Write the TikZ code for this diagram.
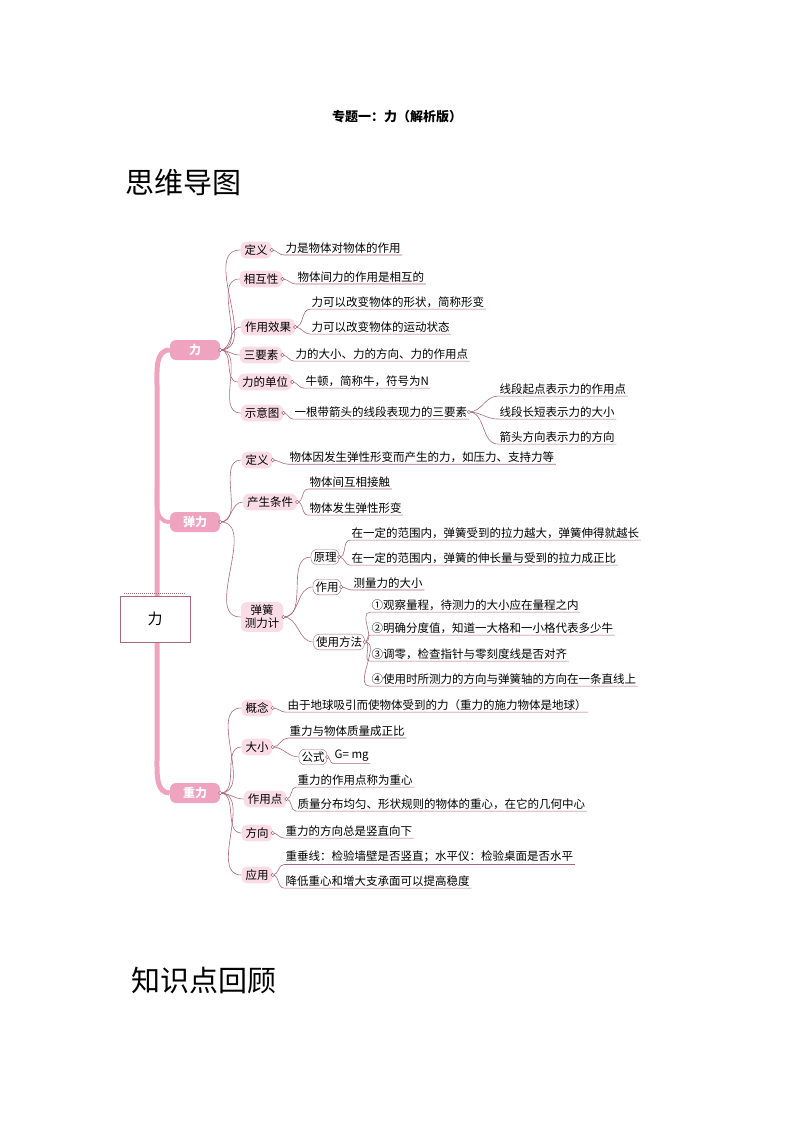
\documentclass[tikz,border=0pt]{standalone}
\usepackage{fontspec}
\setmainfont{Liberation Serif}
\newfontfamily\cjk{Noto Sans CJK SC}
\definecolor{lk}{HTML}{A8687A}
\definecolor{mainp}{HTML}{EFA3BE}
\definecolor{secp}{HTML}{F9DCE6}
\newcommand\leafn[5]{\node[leaf,anchor=west] (#1) at (#3,#4) {#5};
 \draw[lk,line width=0.6pt] (#2.east) to[out=0,in=180] (#1.south west) -- (#1.south east);}
\newcommand\secn[5]{\node[sec] (#1) at (#3,#4) {#5};
 \draw[lk,line width=0.6pt] (#2.east) to[out=0,in=180] (#1.west);}
\begin{document}
\begin{tikzpicture}[x=1pt,y=-1pt,
 leaf/.style={font=\cjk\fontsize{11.5}{13}\selectfont,inner sep=1.5pt},
 sec/.style={font=\cjk\fontsize{11.5}{13}\selectfont,fill=secp,rounded corners=6pt,inner xsep=4pt,inner ysep=3pt,align=center},
 mainn/.style={font=\cjk\bfseries\fontsize{12}{14}\selectfont,text=white,fill=mainp,rounded corners=6pt,minimum width=50pt,minimum height=20pt},
 dot/.style={circle,draw=lk,fill=white,inner sep=1.2pt,line width=0.5pt}]
\useasboundingbox (0,0) rectangle (794,1123);
\node[font=\cjk\bfseries\fontsize{13}{15}\selectfont] (title) at (397,117) {专题一：力（解析版）};
\node[font=\cjk\fontsize{29}{32}\selectfont,anchor=west] (h1) at (122,183) {思维导图};
\node[font=\cjk\fontsize{29}{32}\selectfont,anchor=west] (h2) at (128,980) {知识点回顾};
% main
\node[mainn] (m1) at (195,350) {力};
\node[mainn] (m2) at (195,522) {弹力};
\node[mainn] (m3) at (195,793) {重力};
\coordinate (t1) at (157,385);
\coordinate (t2) at (157,760);
\coordinate (t3) at (157,480);
\draw[mainp,line width=5pt] (m1.west) to[out=180,in=90] (t1) -- (t2) to[out=-90,in=180] (m3.west);
\draw[mainp,line width=4pt] (t3) to[out=-90,in=180] (m2.west);
\node[draw=lk,fill=white,minimum width=70pt,minimum height=46pt,font=\cjk\fontsize{15}{17}\selectfont] (root) at (155,619) {力};
\draw[lk,densely dotted,line width=1pt] (root.north west) ++(4,-2) -- ++(62,0);
% group 1
\secn{a1}{m1}{256}{250}{定义}
\secn{a2}{m1}{261}{279}{相互性}
\secn{a3}{m1}{268}{327}{作用效果}
\secn{a4}{m1}{261}{355}{三要素}
\secn{a5}{m1}{265}{382}{力的单位}
\secn{a6}{m1}{262}{413}{示意图}
\leafn{b1}{a1}{284}{248}{力是物体对物体的作用}
\leafn{b2}{a2}{296}{277}{物体间力的作用是相互的}
\leafn{b3}{a3}{310}{302}{力可以改变物体的形状，简称形变}
\leafn{b4}{a3}{310}{327}{力可以改变物体的运动状态}
\leafn{b5}{a4}{294}{354}{力的大小、力的方向、力的作用点}
\leafn{b6}{a5}{304}{381}{牛顿，简称牛，符号为N}
\leafn{b7}{a6}{293}{412}{一根带箭头的线段表现力的三要素}
\leafn{c1}{b7}{498}{389}{线段起点表示力的作用点}
\leafn{c2}{b7}{498}{412}{线段长短表示力的大小}
\leafn{c3}{b7}{498}{437}{箭头方向表示力的方向}
% group 2
\secn{d1}{m2}{257}{460}{定义}
\secn{d2}{m2}{270}{502}{产生条件}
\secn{d3}{m2}{262}{617}{弹簧\\测力计}
\leafn{e1}{d1}{288}{457}{物体因发生弹性形变而产生的力，如压力、支持力等}
\leafn{e2}{d2}{308}{482}{物体间互相接触}
\leafn{e3}{d2}{308}{508}{物体发生弹性形变}
\node[leaf,draw=lk,rounded corners=6pt,inner sep=2.5pt] (f1) at (325,557) {原理};
\node[leaf,draw=lk,rounded corners=6pt,inner sep=2.5pt] (f2) at (327,587) {作用};
\node[leaf,draw=lk,rounded corners=6pt,inner sep=2.5pt] (f3) at (339,642) {使用方法};
\foreach \f in {f1,f2,f3} \draw[lk,line width=0.6pt] (d3.east) to[out=0,in=180] (\f.west);
\leafn{g1}{f1}{350}{533}{在一定的范围内，弹簧受到的拉力越大，弹簧伸得就越长}
\leafn{g2}{f1}{350}{558}{在一定的范围内，弹簧的伸长量与受到的拉力成正比}
\leafn{g3}{f2}{352}{583}{测量力的大小}
\leafn{g4}{f3}{370}{605}{①观察量程，待测力的大小应在量程之内}
\leafn{g5}{f3}{370}{628}{②明确分度值，知道一大格和一小格代表多少牛}
\leafn{g6}{f3}{370}{654}{③调零，检查指针与零刻度线是否对齐}
\leafn{g7}{f3}{370}{679}{④使用时所测力的方向与弹簧轴的方向在一条直线上}
% group 3
\secn{h1n}{m3}{257}{708}{概念}
\secn{h2n}{m3}{257}{747}{大小}
\secn{h3n}{m3}{265}{799}{作用点}
\secn{h4n}{m3}{257}{833}{方向}
\secn{h5n}{m3}{257}{875}{应用}
\leafn{i1}{h1n}{286}{705}{由于地球吸引而使物体受到的力（重力的施力物体是地球）}
\leafn{i2}{h2n}{288}{731}{重力与物体质量成正比}
\node[leaf,draw=lk,rounded corners=6pt,inner sep=2.5pt] (i3) at (313,757) {公式};
\draw[lk,line width=0.6pt] (h2n.east) to[out=0,in=180] (i3.west);
\leafn{i4}{i3}{333}{756}{\textit{G}= \textit{mg}}
\leafn{i5}{h3n}{296}{780}{重力的作用点称为重心}
\leafn{i6}{h3n}{296}{804}{质量分布均匀、形状规则的物体的重心，在它的几何中心}
\leafn{i7}{h4n}{284}{831}{重力的方向总是竖直向下}
\leafn{i8}{h5n}{284}{857}{重垂线：检验墙壁是否竖直；水平仪：检验桌面是否水平}
\leafn{i9}{h5n}{284}{881}{降低重心和增大支承面可以提高稳度}
\foreach \n in {m1,m2,m3,a1,a2,a3,a4,a5,a6,b7,d1,d2,d3,f1,f2,f3,h1n,h2n,h3n,h4n,h5n,i3} \node[dot] at (\n.east) {};
\end{tikzpicture}
\end{document}
